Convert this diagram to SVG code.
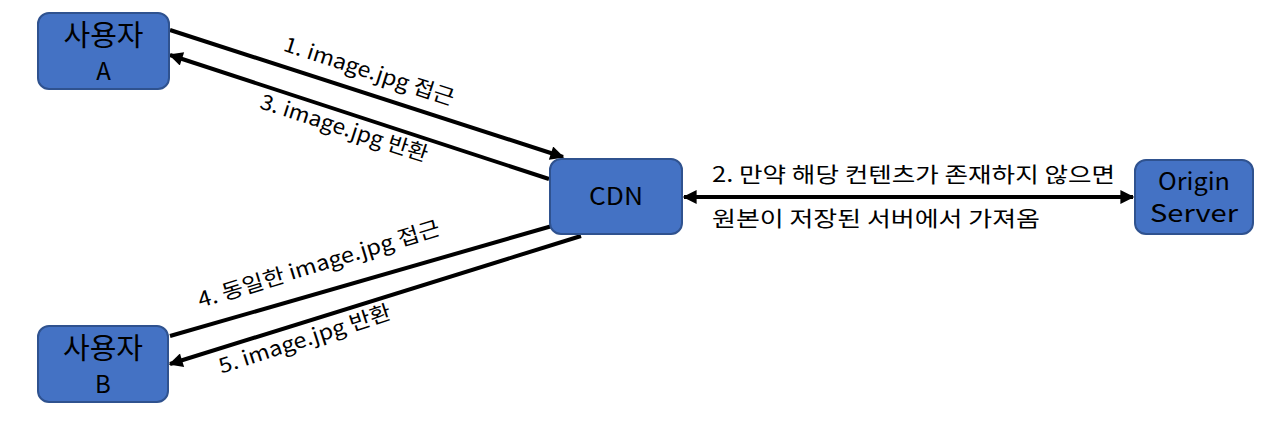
<svg xmlns="http://www.w3.org/2000/svg" width="1284" height="434" viewBox="0 0 1284 434">
<style>
.box{fill:#4472C4;stroke:#2F528F;stroke-width:2}
.t{font-family:"Noto Sans CJK KR","Noto Sans",sans-serif;fill:#000}
.lbl{font-family:"Noto Sans CJK KR","Noto Sans",sans-serif;font-size:21px;fill:#000}
.ln{stroke:#000;stroke-width:4;fill:none}
</style>
<defs>
<marker id="ah" viewBox="0 0 10 10" refX="9" refY="5" markerWidth="4" markerHeight="3.5" orient="auto-start-reverse" markerUnits="strokeWidth">
<path d="M0,0 L10,5 L0,10 z" fill="#000"/>
</marker>
</defs>
<rect width="1284" height="434" fill="#fff"/>
<g id="connectors">
<line class="ln" x1="170" y1="30" x2="563" y2="157" marker-end="url(#ah)"/>
<line class="ln" x1="549" y1="179" x2="170" y2="55" marker-end="url(#ah)"/>
<line class="ln" x1="170" y1="336" x2="566" y2="222" marker-end="url(#ah)"/>
<line class="ln" x1="581" y1="236" x2="170" y2="364" marker-end="url(#ah)"/>
<line class="ln" x1="684" y1="197" x2="1133" y2="197" marker-start="url(#ah)" marker-end="url(#ah)"/>
<text class="lbl" text-anchor="middle" textLength="178" lengthAdjust="spacingAndGlyphs" transform="translate(367,78) rotate(18)">1. image.jpg 접근</text>
<text class="lbl" text-anchor="middle" textLength="175" lengthAdjust="spacingAndGlyphs" transform="translate(342,135) rotate(18)">3. image.jpg 반환</text>
<text class="lbl" text-anchor="middle" textLength="252" lengthAdjust="spacingAndGlyphs" transform="translate(321,271) rotate(-17)">4. 동일한 image.jpg 접근</text>
<text class="lbl" text-anchor="middle" textLength="180" lengthAdjust="spacingAndGlyphs" transform="translate(307,346) rotate(-18)">5. image.jpg 반환</text>
<text class="lbl" x="712" y="182" font-size="22" textLength="403" lengthAdjust="spacingAndGlyphs">2. 만약 해당 컨텐츠가 존재하지 않으면</text>
<text class="lbl" x="712" y="226" font-size="22" textLength="328" lengthAdjust="spacingAndGlyphs">원본이 저장된 서버에서 가져옴</text>
</g>
<g id="userA">
<rect class="box" x="38" y="13" width="131" height="76" rx="11"/>
<text class="t" x="103.5" y="46" font-size="29" text-anchor="middle">사용자</text>
<text class="t" x="103.5" y="80" font-size="24" text-anchor="middle">A</text>
</g>
<g id="userB">
<rect class="box" x="38" y="326" width="130" height="76" rx="11"/>
<text class="t" x="103" y="359" font-size="29" text-anchor="middle">사용자</text>
<text class="t" x="103" y="393" font-size="24" text-anchor="middle">B</text>
</g>
<g id="cdn">
<rect class="box" x="550" y="159" width="132" height="75" rx="11"/>
<text class="t" x="616" y="205" font-size="24" text-anchor="middle" textLength="54" lengthAdjust="spacingAndGlyphs">CDN</text>
</g>
<g id="origin">
<rect class="box" x="1135" y="160" width="118" height="74" rx="11"/>
<text class="t" x="1194" y="190" font-size="24" text-anchor="middle" textLength="72" lengthAdjust="spacingAndGlyphs">Origin</text>
<text class="t" x="1194" y="222" font-size="24" text-anchor="middle" textLength="88" lengthAdjust="spacingAndGlyphs">Server</text>
</g>
</svg>
